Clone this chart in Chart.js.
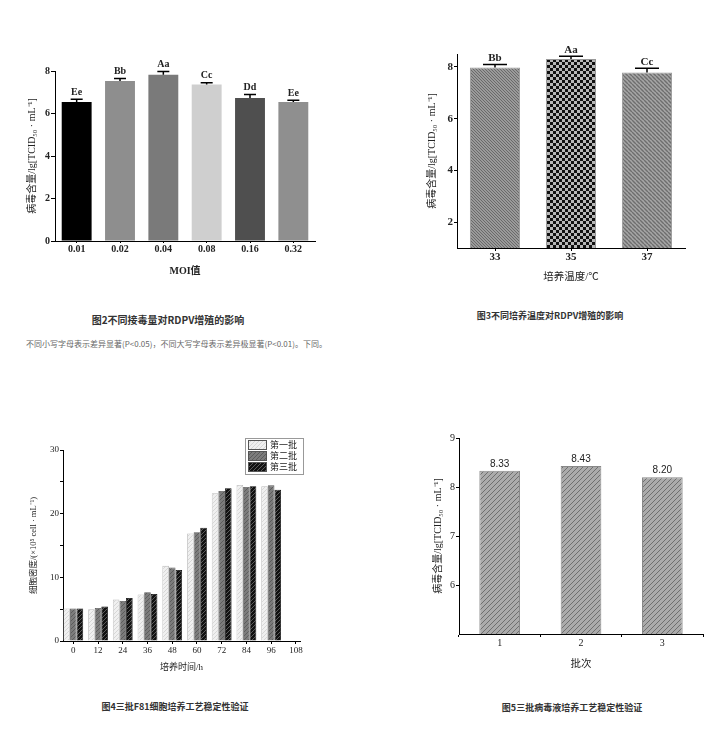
<!DOCTYPE html>
<html>
<head>
<meta charset="utf-8">
<script src="https://cdn.jsdelivr.net/npm/chart.js@4.4.1/dist/chart.umd.min.js"></script>
<style>
    body { margin: 0; background: #fff; width: 727px; height: 735px; position: relative; overflow: hidden; font-family: 'Noto Sans CJK SC', sans-serif; }
    .box { position: absolute; }
    .cap { position: absolute; white-space: nowrap; font-weight: bold; color: #333; line-height: 1; transform: translateX(-50%); }
    .note { position: absolute; white-space: nowrap; color: #666; line-height: 1; }
</style>
</head>
<body>
<div class="box" style="left:0;top:40px;width:330px;height:250px"><canvas id="moiChart"></canvas></div>
<div class="box" style="left:400px;top:20px;width:300px;height:275px"><canvas id="tempChart"></canvas></div>
<div class="box" style="left:20px;top:420px;width:300px;height:260px"><canvas id="cellChart"></canvas></div>
<div class="box" style="left:410px;top:420px;width:300px;height:262px"><canvas id="batchChart"></canvas></div>

<div class="cap" style="left:168px;top:315px;font-size:10px">图2不同接毒量对RDPV增殖的影响</div>
<div class="note" style="left:26px;top:340px;font-size:8px">不同小写字母表示差异显著(P&lt;0.05)，不同大写字母表示差异极显著(P&lt;0.01)。下同。</div>
<div class="cap" style="left:550px;top:311px;font-size:9px">图3不同培养温度对RDPV增殖的影响</div>
<div class="cap" style="left:175px;top:702px;font-size:9px">图4三批F81细胞培养工艺稳定性验证</div>
<div class="cap" style="left:572px;top:703px;font-size:9px">图5三批病毒液培养工艺稳定性验证</div>

<script>
    // 图2 接毒量
    const moiLabels = ['0.01', '0.02', '0.04', '0.08', '0.16', '0.32'];
    const moiTiter = [6.54, 7.53, 7.82, 7.36, 6.73, 6.54];
    const moiErr = [0.13, 0.12, 0.16, 0.09, 0.17, 0.08];
    const moiSig = ['Ee', 'Bb', 'Aa', 'Cc', 'Dd', 'Ee'];
    const moiTicks = [0, 2, 4, 6, 8];

    // 图3 培养温度
    const tempLabels = ['33', '35', '37'];
    const tempTiter = [7.98, 8.31, 7.78];
    const tempErr = [0.11, 0.10, 0.17];
    const tempSig = ['Bb', 'Aa', 'Cc'];
    const tempTicks = [2, 4, 6, 8];

    // 图4 细胞密度
    const hours = [0, 12, 24, 36, 48, 60, 72, 84, 96];
    const hourTicks = [0, 12, 24, 36, 48, 60, 72, 84, 96, 108];
    const batchNames = ['第一批', '第二批', '第三批'];
    const cells1 = [5.1, 5.0, 6.5, 7.3, 11.8, 16.9, 23.2, 24.5, 24.3];
    const cells2 = [5.1, 5.2, 6.3, 7.65, 11.55, 17.1, 23.55, 24.2, 24.45];
    const cells3 = [5.1, 5.4, 6.75, 7.4, 11.15, 17.8, 24.0, 24.3, 23.75];
    const cellTicks = [0, 5, 10, 15, 20, 25, 30];

    // 图5 批次
    const batchLabels = ['1', '2', '3'];
    const batchTiter = [8.33, 8.43, 8.20];
    const batchTicks = [6, 7, 8, 9];

    const SERIF = "'Liberation Serif', 'Noto Sans CJK SC', serif";
    Chart.defaults.font.family = SERIF;
    Chart.defaults.color = '#222';

    // 빗금 패턴
    function hatch(bg, fg, size, dir, lw) {
        const c = document.createElement('canvas');
        c.width = c.height = size;
        const g = c.getContext('2d');
        g.fillStyle = bg;
        g.fillRect(0, 0, size, size);
        g.strokeStyle = fg;
        g.lineWidth = lw;
        g.beginPath();
        for (let k = -1; k <= 1; k++) {
            if (dir > 0) {
                g.moveTo(k * size, size);
                g.lineTo(k * size + size, 0);
            } else {
                g.moveTo(k * size, 0);
                g.lineTo(k * size + size, size);
            }
        }
        g.stroke();
        return g.createPattern(c, 'repeat');
    }

    function checker(a, b, s) {
        const c = document.createElement('canvas');
        c.width = c.height = s * 2;
        const g = c.getContext('2d');
        g.fillStyle = b;
        g.fillRect(0, 0, s * 2, s * 2);
        g.fillStyle = a;
        g.fillRect(0, 0, s, s);
        g.fillRect(s, s, s, s);
        return g.createPattern(c, 'repeat');
    }

    // 오차 막대 + 막대 위 글자
    const barMarks = {
        id: 'barMarks',
        afterDatasetsDraw(chart, args, opts) {
            const ctx = chart.ctx;
            const y = chart.scales.y;
            const vals = chart.data.datasets[0].data;
            ctx.save();
            chart.getDatasetMeta(0).data.forEach((bar, i) => {
                let top = bar.y;
                if (opts.err) {
                    const yc = y.getPixelForValue(vals[i] + opts.err[i]);
                    ctx.strokeStyle = '#000';
                    ctx.lineWidth = 1.5;
                    ctx.beginPath();
                    ctx.moveTo(bar.x, bar.y);
                    ctx.lineTo(bar.x, yc);
                    ctx.moveTo(bar.x - opts.cap / 2, yc);
                    ctx.lineTo(bar.x + opts.cap / 2, yc);
                    ctx.stroke();
                    top = yc;
                }
                ctx.font = opts.font;
                ctx.fillStyle = '#222';
                ctx.textAlign = 'center';
                ctx.textBaseline = 'bottom';
                ctx.fillText(opts.text[i], bar.x, top - opts.gap);
            });
            ctx.restore();
        }
    };

    // 그림 안쪽 범례 상자
    const boxLegend = {
        id: 'boxLegend',
        afterDraw(chart, args, opts) {
            const ctx = chart.ctx;
            const a = chart.chartArea;
            const x0 = a.right + opts.dx, y0 = a.top + opts.dy;
            const sets = chart.data.datasets;
            const h = sets.length * opts.rowH + 3;
            ctx.save();
            ctx.fillStyle = '#fff';
            ctx.fillRect(x0, y0, opts.w, h);
            ctx.strokeStyle = '#999';
            ctx.lineWidth = 1;
            ctx.strokeRect(x0 + 0.5, y0 + 0.5, opts.w, h);
            sets.forEach((ds, i) => {
                const yy = y0 + 2 + i * opts.rowH;
                ctx.fillStyle = ds.backgroundColor;
                ctx.fillRect(x0 + 3, yy, 19, opts.rowH - 1);
                ctx.strokeStyle = '#555';
                ctx.strokeRect(x0 + 3.5, yy + 0.5, 18, opts.rowH - 2);
                ctx.fillStyle = '#222';
                ctx.font = opts.font;
                ctx.textAlign = 'left';
                ctx.textBaseline = 'middle';
                ctx.fillText(ds.label, x0 + 25, yy + opts.rowH / 2);
            });
            ctx.restore();
        }
    };

    function yAxis(width, min, max, ticks, title, pad, tickFont, titleFont, tl) {
        return {
            min: min,
            max: max,
            afterFit: s => { s.width = width; },
            afterBuildTicks: s => { s.ticks = ticks.map(v => ({ value: v })); },
            border: { color: '#000', width: 1 },
            grid: { drawOnChartArea: false, tickLength: tl, color: '#000' },
            ticks: { padding: 1, color: '#222', font: tickFont },
            title: { display: true, text: title, padding: { top: pad, bottom: 0 }, font: titleFont, color: '#222' }
        };
    }

    function xAxis(height, title, pad, tickFont, titleFont, gridOffset, tl, tp) {
        return {
            afterFit: s => { s.height = height; },
            border: { color: '#000', width: 1 },
            grid: { drawOnChartArea: false, tickLength: tl, color: '#000', offset: gridOffset },
            ticks: { padding: tp, color: '#222', font: tickFont, autoSkip: false, maxRotation: 0 },
            title: { display: true, text: title, padding: { top: 0, bottom: pad }, font: titleFont, color: '#222' }
        };
    }

    const base = {
        responsive: true,
        maintainAspectRatio: false,
        animation: false,
        events: []
    };

    function renderCharts() {
        // 图2
        new Chart(document.getElementById('moiChart'), {
            type: 'bar',
            data: {
                labels: moiLabels,
                datasets: [{
                    data: moiTiter,
                    backgroundColor: ['#000000', '#8e8e8e', '#7a7a7a', '#cfcfcf', '#4f4f4f', '#8f8f8f'],
                    barPercentage: 0.69,
                    categoryPercentage: 1
                }]
            },
            options: {
                ...base,
                layout: { padding: { left: 0, top: 31, right: 15, bottom: 0 } },
                plugins: {
                    legend: { display: false },
                    tooltip: { enabled: false },
                    barMarks: { err: moiErr, cap: 12, text: moiSig, font: 'bold 10px ' + SERIF, gap: 2 }
                },
                scales: {
                    x: xAxis(49, 'MOI值', 13, { size: 10, weight: 'bold' }, { size: 10, weight: 'bold' }, false, 2, 0),
                    y: yAxis(55, 0, 8, moiTicks, '病毒含量/lg[TCID₅₀ · mL⁻¹]', 26, { size: 10, weight: 'bold' }, { size: 10 }, 4)
                }
            },
            plugins: [barMarks]
        });

        // 图3
        new Chart(document.getElementById('tempChart'), {
            type: 'bar',
            data: {
                labels: tempLabels,
                datasets: [{
                    data: tempTiter,
                    backgroundColor: [
                        hatch('#9a9a9a', '#6a6a6a', 3, -1, 1),
                        checker('#111111', '#b8b8b8', 3),
                        hatch('#a6a6a6', '#6e6e6e', 4, -1, 1.4)
                    ],
                    borderColor: '#999',
                    borderWidth: 1,
                    barPercentage: 0.66,
                    categoryPercentage: 1
                }]
            },
            options: {
                ...base,
                layout: { padding: { left: 0, top: 34, right: 15, bottom: 0 } },
                plugins: {
                    legend: { display: false },
                    tooltip: { enabled: false },
                    barMarks: { err: tempErr, cap: 24, text: tempSig, font: 'bold 11px ' + SERIF, gap: 1 }
                },
                scales: {
                    x: xAxis(47, '培养温度/℃', 11, { size: 11, weight: 'bold' }, { size: 10.5 }, false, 3, 0),
                    y: yAxis(57, 1, 8.5, tempTicks, '病毒含量/lg[TCID₅₀ · mL⁻¹]', 26, { size: 11, weight: 'bold' }, { size: 10 }, 3)
                }
            },
            plugins: [barMarks]
        });

        // 图4
        const cellY = yAxis(43, 0, 30, cellTicks, '细胞密度/(×10⁵ cell · mL⁻¹)', 9, { size: 9 }, { size: 8.5 }, 3);
        cellY.ticks.callback = v => (v % 10 === 0 ? v : '');
        const cellX = xAxis(39, '培养时间/h', 7, { size: 9 }, { size: 9 }, false, 3, 1);
        cellX.type = 'linear';
        cellX.min = -5;
        cellX.max = 110;
        cellX.offset = false;
        cellX.afterBuildTicks = s => { s.ticks = hourTicks.map(v => ({ value: v })); };

        const toXY = arr => hours.map((h, i) => ({ x: h, y: arr[i] }));
        const cellStyle = { barPercentage: 1, categoryPercentage: 0.8, borderWidth: 0.8 };
        new Chart(document.getElementById('cellChart'), {
            type: 'bar',
            data: {
                datasets: [
                    { label: batchNames[0], data: toXY(cells1), backgroundColor: hatch('#f0f0f0', '#d6d6d6', 4, 1, 1), borderColor: '#bbb', ...cellStyle },
                    { label: batchNames[1], data: toXY(cells2), backgroundColor: hatch('#7c7c7c', '#5c5c5c', 4, 1, 1), borderColor: '#555', ...cellStyle },
                    { label: batchNames[2], data: toXY(cells3), backgroundColor: hatch('#111111', '#5a5a5a', 4, 1, 1), borderColor: '#000', ...cellStyle }
                ]
            },
            options: {
                ...base,
                layout: { padding: { left: 0, top: 30, right: 20, bottom: 0 } },
                plugins: {
                    legend: { display: false },
                    tooltip: { enabled: false },
                    boxLegend: { dx: -55, dy: -12, w: 58, rowH: 11, font: '9px ' + SERIF }
                },
                scales: { x: cellX, y: cellY }
            },
            plugins: [boxLegend]
        });

        // 图5
        new Chart(document.getElementById('batchChart'), {
            type: 'bar',
            data: {
                labels: batchLabels,
                datasets: [{
                    data: batchTiter,
                    backgroundColor: hatch('#ababab', '#6f6f6f', 5, 1, 1),
                    borderColor: '#888',
                    borderWidth: 1,
                    barPercentage: 0.5,
                    categoryPercentage: 1
                }]
            },
            options: {
                ...base,
                layout: { padding: { left: 0, top: 18, right: 7, bottom: 0 } },
                plugins: {
                    legend: { display: false },
                    tooltip: { enabled: false },
                    barMarks: { text: batchTiter.map(v => v.toFixed(2)), font: "10px 'Liberation Sans', sans-serif", gap: 2 }
                },
                scales: {
                    x: xAxis(48, '批次', 11, { size: 10 }, { size: 10.5 }, true, 3, 0),
                    y: yAxis(49, 5, 9, batchTicks, '病毒含量/lg[TCID₅₀ · mL⁻¹]', 22, { size: 10 }, { size: 10 }, 3)
                }
            },
            plugins: [barMarks]
        });
    }

    renderCharts();
</script>
</body>
</html>
